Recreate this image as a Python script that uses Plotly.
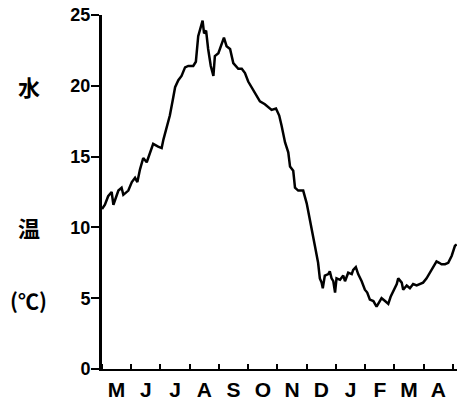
import plotly.graph_objects as go

# x: months since 1 May (0 = start of May, 12 = end of April); y: water temperature (degC)
month_pos = [0.00, 0.10, 0.21, 0.33, 0.39, 0.56, 0.67, 0.73, 0.90, 1.02, 1.13, 1.21, 1.30, 1.41,
             1.53, 1.64, 1.75, 1.92, 2.04, 2.10, 2.21, 2.32, 2.42, 2.50, 2.61, 2.72, 2.84, 2.95,
             3.12, 3.21, 3.29, 3.35, 3.44, 3.49, 3.56, 3.63, 3.72, 3.81, 3.86, 3.98, 4.06, 4.17,
             4.26, 4.38, 4.49, 4.66, 4.78, 4.89, 5.00, 5.17, 5.29, 5.40, 5.57, 5.80, 5.95, 6.06,
             6.14, 6.26, 6.37, 6.43, 6.54, 6.60, 6.71, 6.88, 7.00, 7.11, 7.22, 7.28, 7.39, 7.45,
             7.51, 7.55, 7.62, 7.74, 7.79, 7.85, 7.91, 7.97, 8.02, 8.14, 8.25, 8.31, 8.42, 8.54,
             8.59, 8.68, 8.76, 8.88, 8.99, 9.07, 9.16, 9.28, 9.39, 9.50, 9.56, 9.68, 9.79, 9.87,
             9.96, 10.08, 10.13, 10.25, 10.30, 10.42, 10.53, 10.64, 10.76, 10.87, 10.98, 11.10,
             11.21, 11.33, 11.44, 11.53, 11.61, 11.73, 11.84, 11.96, 12.07, 12.13]
water_temp = [11.3, 11.6, 12.2, 12.5, 11.6, 12.6, 12.8, 12.3, 12.6, 13.2, 13.5, 13.2, 14.1, 14.9,
              14.6, 15.3, 15.9, 15.7, 15.6, 16.2, 17.0, 17.9, 19.0, 19.9, 20.4, 20.7, 21.3, 21.4,
              21.4, 21.7, 23.5, 24.0, 24.6, 23.7, 23.9, 22.6, 21.4, 20.7, 22.1, 22.3, 22.8, 23.4,
              22.8, 22.6, 21.6, 21.2, 21.2, 20.9, 20.3, 19.7, 19.3, 18.9, 18.7, 18.3, 18.4, 17.9,
              17.2, 16.0, 15.3, 14.3, 14.0, 12.8, 12.6, 12.6, 11.7, 10.6, 9.4, 8.7, 7.5, 6.4,
              6.1, 5.7, 6.6, 6.7, 6.9, 6.4, 6.2, 5.4, 6.4, 6.3, 6.6, 6.2, 6.8, 6.7,
              7.0, 7.2, 6.7, 6.2, 5.6, 5.4, 4.9, 4.8, 4.4, 4.8, 5.0, 4.8, 4.6, 5.1,
              5.5, 6.0, 6.4, 6.1, 5.6, 5.9, 5.7, 6.0, 5.9, 6.0, 6.1, 6.4,
              6.8, 7.2, 7.6, 7.5, 7.4, 7.4, 7.5, 8.0, 8.7, 8.8]

month_labels = ["M", "J", "J", "A", "S", "O", "N", "D", "J", "F", "M", "A"]
month_label_pos = [i + 0.5 for i in range(12)]
month_bounds = list(range(13))
y_ticks = [0, 5, 10, 15, 20, 25]

fig = go.Figure()
fig.add_trace(go.Scatter(x=month_pos, y=water_temp, mode="lines",
                         line=dict(color="black", width=2.5), showlegend=False,
                         hoverinfo="skip"))

fig.update_layout(
    width=457, height=409,
    margin=dict(l=102, r=0, t=15, b=40),
    paper_bgcolor="white", plot_bgcolor="white",
    font=dict(family="Liberation Sans, Arial, sans-serif", color="black", size=17, weight="bold"),
    xaxis=dict(range=[0, 12.14], tickmode="array", tickvals=month_label_pos, ticktext=month_labels,
               ticks="", showgrid=False, zeroline=False, showline=True, linecolor="black",
               linewidth=2, tickfont=dict(size=21, weight="bold"), ticklabelstandoff=1,
               minor=dict(tickmode="array", tickvals=month_bounds, ticks="inside", ticklen=5,
                          tickwidth=2, tickcolor="black", showgrid=False)),
    yaxis=dict(range=[0, 25], tickmode="array", tickvals=y_ticks, ticks="outside", ticklen=8,
               tickwidth=1.5, tickcolor="black", showgrid=False, zeroline=False, showline=True,
               linecolor="black", linewidth=3, tickfont=dict(size=18, weight="bold"),
               ticklabelstandoff=-3),
)

cjk = "Noto Sans CJK JP, sans-serif"
for txt, yv, sz in [("水", 20.0, 22), ("温", 10.0, 22), ("(℃)", 4.9, 21)]:
    fig.add_annotation(text=txt, xref="paper", yref="y", x=-0.206, y=yv, xanchor="center",
                       yanchor="middle", showarrow=False,
                       font=dict(family=cjk, size=sz, weight="bold", color="black"))

fig.write_html("out.html")
